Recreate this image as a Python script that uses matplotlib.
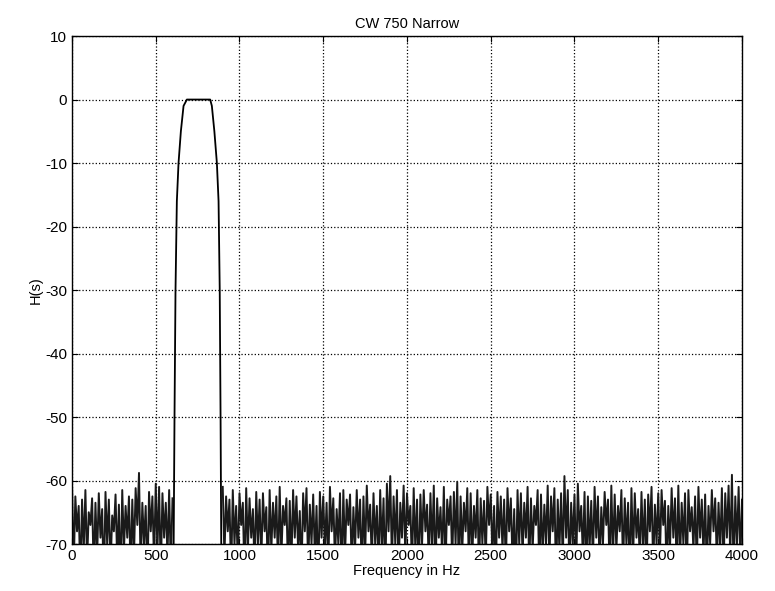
import numpy as np
from matplotlib import pyplot as plt

plt.rcParams['font.family'] = ['Liberation Sans', 'DejaVu Sans']
plt.rcParams['axes.unicode_minus'] = False

# passband of the filter (Hz, dB)
pass_freq = [607, 612, 618, 626, 636, 650, 666, 686, 750, 825, 835, 850, 865, 875, 882, 887, 891]
pass_db = [-70, -50, -30, -16, -10, -5, -1, 0, 0, 0, -1, -5, -10, -16, -30, -50, -70]

# stopband: peaks every 20 Hz, troughs halfway between (below -70 is clipped)
low_start = 0
low_peaks = [-60.5, -62.5, -64, -63, -61.5, -65, -62.8, -63.5, -62, -64.5,
             -61.8, -63, -65.5, -62.2, -63.8, -61.5, -64, -62.5, -63, -61.2,
             -58.8, -63.5, -64, -61.8, -62.5, -60.5, -61, -62, -63.5, -61.5,
             -62.8]
low_troughs = [-74, -68, -76, -71, -73, -67, -75, -72, -69, -77,
               -70, -74, -68, -73, -76, -71, -69, -75, -72, -67,
               -74, -70, -76, -68, -73, -71, -75, -69, -72, -74]

high_start = 900
high_peaks = [
    -61.0, -62.5, -63.0, -61.5, -64.0, -62.0, -63.5, -61.2, -62.8, -64.5,
    -61.8, -63.0, -62.0, -64.2, -61.5, -63.5, -62.5, -61.0, -64.0, -62.8,
    -63.2, -61.5, -62.5, -64.8, -62.0, -61.2, -63.8, -62.2, -64.0, -61.8,
    -62.5, -63.5, -61.0, -62.8, -64.5, -62.0, -61.5, -63.0, -62.2, -64.2,
    -61.5, -63.0, -62.5, -60.8, -63.8, -62.0, -64.0, -61.5, -62.8, -60.5,
    -59.3, -62.5, -61.5, -63.5, -60.8, -62.0, -64.0, -61.2, -63.0, -62.2,
    -61.5, -63.8, -62.0, -60.8, -62.8, -64.2, -61.0, -63.0, -62.5, -61.8,
    -60.2, -62.5, -63.5, -61.2, -62.0, -64.0, -61.5, -62.8, -63.2, -61.0,
    -62.2, -64.0, -61.8, -62.5, -63.0, -61.2, -62.8, -64.5, -61.5, -62.0,
    -63.5, -61.0, -62.8, -64.0, -61.5, -62.2, -63.8, -60.8, -62.5, -61.2,
    -63.0, -62.0, -59.3, -61.5, -63.5, -62.2, -60.5, -64.0, -61.8, -62.5,
    -63.2, -61.0, -62.5, -64.2, -61.8, -63.0, -60.8, -62.2, -64.0, -61.5,
    -62.8, -63.5, -61.2, -62.0, -64.5, -61.8, -63.0, -62.2, -61.0, -63.8,
    -62.0, -61.5, -63.2, -64.0, -61.2, -62.8, -60.8, -63.5, -62.0, -61.5,
    -64.2, -62.5, -61.0, -63.0, -62.2, -64.0, -61.5, -62.8, -63.5, -61.2,
    -62.0, -60.8, -59.1, -62.5, -61.0, -63.0]
high_troughs = [
    -72, -68, -75, -70, -73, -67, -76, -71, -69, -74,
    -70, -73, -68, -76, -71, -69, -74, -72, -67, -75,
    -73, -69, -71, -75, -68, -74, -70, -72, -76, -69,
    -71, -74, -68, -73, -70, -76, -72, -67, -74, -71,
    -69, -75, -72, -68, -73, -70, -74, -71, -76, -68,
    -73, -70, -75, -69, -72, -67, -74, -71, -76, -70,
    -68, -73, -71, -75, -69, -72, -74, -67, -73, -70,
    -76, -71, -68, -74, -72, -69, -75, -70, -73, -67,
    -72, -75, -69, -71, -74, -68, -73, -76, -70, -72,
    -69, -74, -71, -67, -75, -72, -70, -73, -68, -76,
    -71, -73, -69, -75, -70, -74, -68, -72, -76, -71,
    -73, -69, -74, -70, -67, -75, -72, -71, -68, -74,
    -70, -76, -72, -69, -73, -71, -75, -68, -74, -70,
    -72, -67, -75, -71, -69, -74, -73, -70, -76, -68,
    -71, -74, -69, -72, -75, -70, -68, -73, -71, -74,
    -69, -72, -75, -70, -73]
step = 20

xticks = list(range(0, 4001, 500))
yticks = list(range(-70, 11, 10))


def stopband(start, peaks, troughs):
    f = start + step * np.arange(len(peaks))
    x = np.empty(len(peaks) + len(troughs))
    y = np.empty(len(peaks) + len(troughs))
    x[0::2] = f
    y[0::2] = peaks
    x[1::2] = f[:-1] + step / 2
    y[1::2] = troughs
    return x, y


fig = plt.figure(figsize=(7.75, 5.91), dpi=100)
ax = fig.add_axes([0.0929, 0.0795, 0.8645, 0.8595])

for start, peaks, troughs in [(low_start, low_peaks, low_troughs),
                              (high_start, high_peaks, high_troughs)]:
    x, y = stopband(start, peaks, troughs)
    ax.plot(x, y, color='#1a1a1a', linewidth=1.4)
ax.plot(pass_freq, pass_db, color='black', linewidth=1.3)

ax.set_xlim(0, 4000)
ax.set_ylim(-70, 10)
ax.set_xticks(xticks)
ax.set_yticks(yticks)
ax.grid(True, color='black', linestyle=':', linewidth=0.9)
ax.tick_params(direction='in', top=True, right=True, labelsize=11, length=4)
for s in ax.spines.values():
    s.set_linewidth(1.0)

ax.set_title("CW 750 Narrow", fontsize=10.5, pad=6)
ax.set_xlabel("Frequency in Hz", fontsize=10.5, labelpad=1)
ax.set_ylabel("H(s)", fontsize=10.5, labelpad=2)

fig.savefig("out.png", dpi=100)
